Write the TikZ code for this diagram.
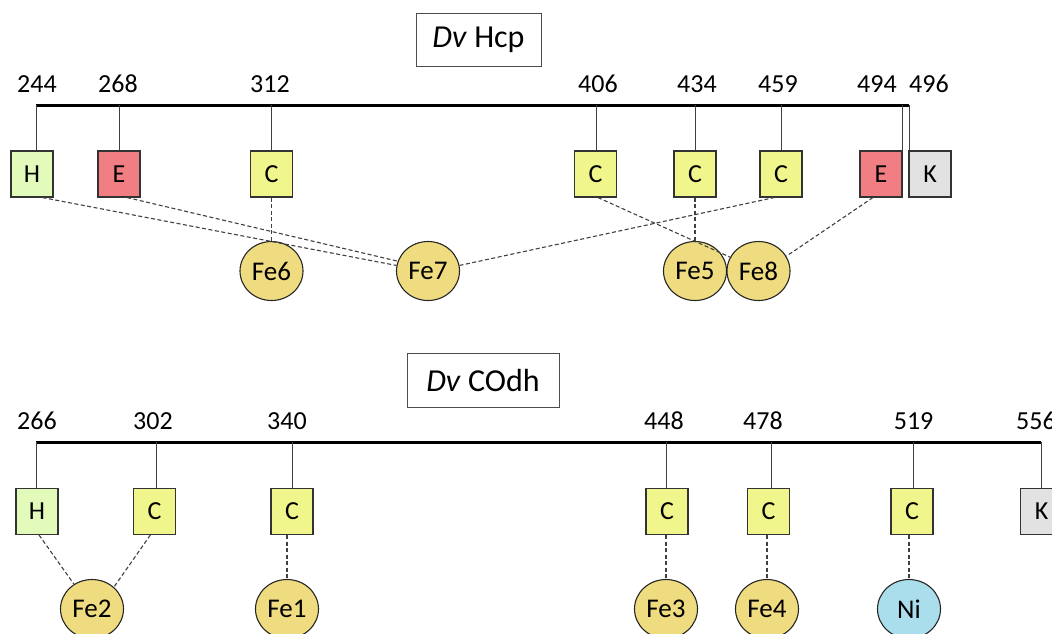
\documentclass[tikz,border=0pt]{standalone}
\usepackage{fontspec}
\setmainfont{Carlito}
\usetikzlibrary{shapes.geometric}
\definecolor{hgreen}{RGB}{226,250,186}
\definecolor{ered}{RGB}{240,126,130}
\definecolor{cyel}{RGB}{240,245,140}
\definecolor{kgray}{RGB}{226,226,226}
\definecolor{fegold}{RGB}{240,220,128}
\definecolor{niblue}{RGB}{170,222,236}
\begin{document}
\begin{tikzpicture}[x=1pt,y=-1pt,
  res/.style={draw=black!80,line width=1.1pt,minimum width=42pt,minimum height=46pt,inner sep=0pt,font=\fontsize{26}{30}\selectfont},
  fe/.style={ellipse,draw=black!85,line width=1.1pt,fill=fegold,minimum width=63pt,minimum height=59pt,inner sep=0pt,font=\fontsize{27}{30}\selectfont},
  num/.style={font=\fontsize{26}{30}\selectfont,inner sep=0pt},
  chainline/.style={line width=3pt},
  tickline/.style={draw=black!75,line width=0.9pt},
  link/.style={draw=black!75,line width=1.1pt,dash pattern=on 4pt off 2.5pt},
  titlebox/.style={draw=black!70,line width=1pt,font=\fontsize{32}{36}\selectfont,inner sep=0pt,minimum height=53pt}]
\useasboundingbox (0,0) rectangle (1052,633);

% ---------------- Dv Hcp ----------------
\node[titlebox,minimum width=125pt] (t1) at (478.5,39.5) {\textit{Dv} Hcp};

\coordinate (a1) at (36,105);
\coordinate (a2) at (119,105);
\coordinate (a3) at (271,105);
\coordinate (a4) at (596,105);
\coordinate (a5) at (695,105);
\coordinate (a6) at (781,105);
\coordinate (a7) at (902,105);
\coordinate (a8) at (909,105);
\draw[chainline] (a1) -- (a8);

\node[num] (n244) at (37,84) {244};
\node[num] (n268) at (118,84) {268};
\node[num] (n312) at (270,84) {312};
\node[num] (n406) at (598,84) {406};
\node[num] (n434) at (697,84) {434};
\node[num] (n459) at (778,84) {459};
\node[num] (n494) at (877,84) {494};
\node[num] (n496) at (929,84) {496};

\node[res,fill=hgreen] (hH) at (32,174) {H};
\node[res,fill=ered] (hE1) at (119,174) {E};
\node[res,fill=cyel] (hC1) at (271.5,174) {C};
\node[res,fill=cyel] (hC2) at (595.5,174) {C};
\node[res,fill=cyel] (hC3) at (695,174) {C};
\node[res,fill=cyel] (hC4) at (781,174) {C};
\node[res,fill=ered] (hE2) at (881,174) {E};
\node[res,fill=kgray] (hK) at (930,174) {K};

\foreach \c/\b in {a1/hH,a2/hE1,a3/hC1,a4/hC2,a5/hC3,a6/hC4,a7/hE2,a8/hK}
  \draw[tickline] (\c) -- (\c |- \b.north);

\node[fe] (Fe6) at (271.5,271) {Fe6};
\node[fe] (Fe7) at (428,271) {Fe7};
\node[fe] (Fe5) at (695,271) {Fe5};
\node[fe] (Fe8) at (758.5,271) {Fe8};

\draw[link] (hH.-66) -- (Fe7.170);
\draw[link] (hE1.-71) -- (Fe7.162);
\draw[link] (hC1.south -| Fe6.north) -- (Fe6.north);
\draw[link] (Fe7.10) -- (hC4.-106);
\draw[link] (hC2.-84) -- (Fe8.154);
\draw[link] (hC3.south -| Fe5.north) -- (Fe5.north);
\draw[link] (hE2.-109) -- (Fe8.28);

% ---------------- Dv COdh ----------------
\node[titlebox,minimum width=152pt,minimum height=54pt] (t2) at (483,380.5) {\textit{Dv} COdh};

\coordinate (b1) at (36,442);
\coordinate (b2) at (156.5,442);
\coordinate (b3) at (292,442);
\coordinate (b4) at (666.5,442);
\coordinate (b5) at (771,442);
\coordinate (b6) at (913,442);
\coordinate (b7) at (1041,442);
\draw[chainline] (b1) -- (b7);

\node[num] (n266) at (37,421) {266};
\node[num] (n302) at (153,421) {302};
\node[num] (n340) at (287,421) {340};
\node[num] (n448) at (664,421) {448};
\node[num] (n478) at (763,421) {478};
\node[num] (n519) at (913.6,421) {519};
\node[num] (n556) at (1036,421) {556};

\node[res,fill=hgreen] (bH) at (37,511.5) {H};
\node[res,fill=cyel] (bC1) at (154.5,511.5) {C};
\node[res,fill=cyel] (bC2) at (292,511.5) {C};
\node[res,fill=cyel] (bC3) at (667,511.5) {C};
\node[res,fill=cyel] (bC4) at (768.5,511.5) {C};
\node[res,fill=cyel] (bC5) at (912,511.5) {C};
\node[res,fill=kgray] (bK) at (1041.5,511.5) {K};

\foreach \c/\b in {b1/bH,b2/bC1,b3/bC2,b4/bC3,b5/bC4,b6/bC5,b7/bK}
  \draw[tickline] (\c) -- (\c |- \b.north);

\node[fe] (Fe2) at (92,609) {Fe2};
\node[fe] (Fe1) at (287,609) {Fe1};
\node[fe] (Fe3) at (666,609) {Fe3};
\node[fe] (Fe4) at (767,609) {Fe4};
\node[fe,fill=niblue] (Ni) at (909,609) {Ni};

\draw[link] (bH.-85) -- (Fe2.126);
\draw[link] (bC1.-100) -- (Fe2.45);
\draw[link] (bC2.south -| Fe1.north) -- (Fe1.north);
\draw[link] (bC3.south -| Fe3.north) -- (Fe3.north);
\draw[link] (bC4.south -| Fe4.north) -- (Fe4.north);
\draw[link] (bC5.south -| Ni.north) -- (Ni.north);
\end{tikzpicture}
\end{document}
